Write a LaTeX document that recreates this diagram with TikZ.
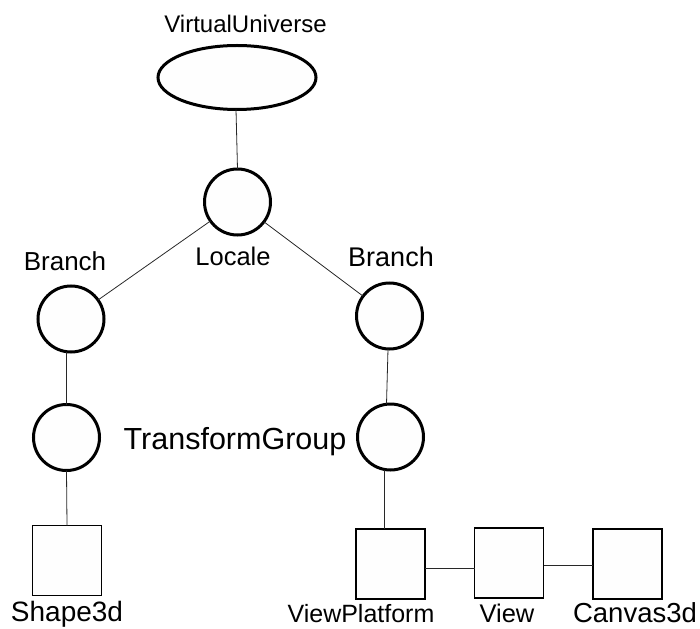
\documentclass[tikz,border=0pt]{standalone}
\usepackage{fontspec}
\setmainfont{Liberation Sans}
\usetikzlibrary{shapes.geometric}
\begin{document}
\begin{tikzpicture}[x=1pt,y=-1pt,
  every node/.style={inner sep=0pt,outer sep=0pt},
  shapefill/.style={fill={rgb,255:red,254;green,254;blue,254}},
  groupnode/.style={circle,draw,line width=3pt,shapefill,minimum size=66pt},
  leafnode/.style={rectangle,draw,line width=1.8pt,shapefill,minimum width=69pt,minimum height=70pt},
  link/.style={line width=0.8pt,draw={rgb,255:red,40;green,40;blue,40}},
  lbl/.style={anchor=base,text=black}]
\useasboundingbox (0,0) rectangle (700,628);

% scene graph nodes
\node[ellipse,draw,line width=3pt,shapefill,minimum width=158pt,minimum height=64pt] (vu) at (237,77.5) {};
\node[groupnode] (locale) at (237.5,202) {};
\node[groupnode] (bl) at (71,319) {};
\node[groupnode] (br) at (389.5,316) {};
\node[groupnode] (tgl) at (66.5,437.5) {};
\node[groupnode] (tgr) at (390.5,437) {};
\node[leafnode] (shape) at (67,560.5) {};
\node[leafnode] (vp) at (390.5,564) {};
\node[leafnode] (view) at (509,563) {};
\node[leafnode] (canvas) at (627.5,564) {};

% connectors
\draw[link] ([xshift=-1pt]vu.south) -- (locale.north);
\draw[link] (locale) -- (bl);
\draw[link] (locale) -- (br);
\draw[link] (tgl.north |- bl.south) -- (tgl.north);
\draw[link] ([xshift=-1.5pt]br.south) -- ([xshift=-4pt]tgr.north);
\draw[link] (tgl.south) -- (shape.north);
\draw[link] ([xshift=-6pt]tgr.south) -- ([xshift=-6pt]vp.north);
\draw[link] ([yshift=-4pt]vp.east) -- ([yshift=-5pt]view.west);
\draw[link] ([yshift=-2pt]view.east) -- ([yshift=-1pt]canvas.west);

% labels
\node[lbl,font=\fontsize{24}{24}\selectfont] (tvu) at (245.5,33) {VirtualUniverse};
\node[lbl,font=\fontsize{25.5}{25}\selectfont] (tlocale) at (233,265) {Locale};
\node[lbl,font=\fontsize{26}{26}\selectfont] (tbl) at (65,270) {Branch};
\node[lbl,font=\fontsize{27}{27}\selectfont] (tbr) at (391,266.5) {Branch};
\node[lbl,font=\fontsize{30.5}{30}\selectfont] (ttg) at (235,449) {TransformGroup};
\node[lbl,font=\fontsize{28}{28}\selectfont] (tshape) at (67,621.5) {Shape3d};
\node[lbl,font=\fontsize{25}{25}\selectfont] (tvp) at (361,622.5) {ViewPlatform};
\node[lbl,font=\fontsize{25.5}{25}\selectfont] (tview) at (507,622.5) {View};
\node[lbl,font=\fontsize{27.5}{27}\selectfont] (tcanvas) at (635,622.5) {Canvas3d};
\end{tikzpicture}
\end{document}
